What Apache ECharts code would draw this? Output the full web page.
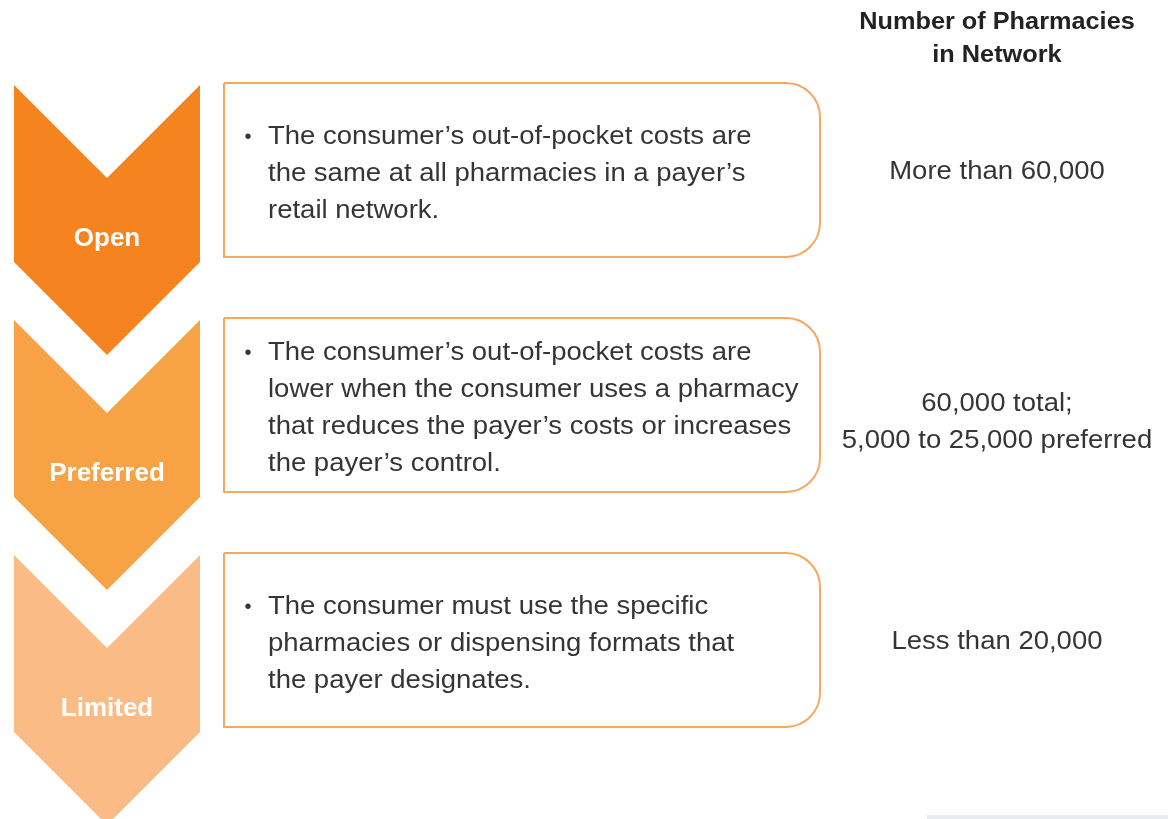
<!DOCTYPE html>
<html>
<head>
<meta charset="utf-8">
<script src="https://cdn.jsdelivr.net/npm/echarts@6/dist/echarts.min.js"></script>
<style>
  html, body { margin: 0; padding: 0; background: #fff; }
  #main { width: 1168px; height: 819px; }
</style>
</head>
<body>
<div id="main"></div>
<script>
// network levels, top to bottom
const levels = ['Open', 'Preferred', 'Limited'];
// bullet text in each box (one entry per printed line)
const descriptions = [
    ["The consumer\u2019s out-of-pocket costs are",
     "the same at all pharmacies in a payer\u2019s",
     "retail network."],
    ["The consumer\u2019s out-of-pocket costs are",
     "lower when the consumer uses a pharmacy",
     "that reduces the payer\u2019s costs or increases",
     "the payer\u2019s control."],
    ["The consumer must use the specific",
     "pharmacies or dispensing formats that",
     "the payer designates."]
];
// right column: number of pharmacies
const pharmacyCounts = [
    ['More than 60,000'],
    ['60,000 total;', '5,000 to 25,000 preferred'],
    ['Less than 20,000']
];
const headerLines = ['Number of Pharmacies', 'in Network'];

const chevronColors = ['#F5831F', '#F7A345', '#FABB84'];
const FONT = '"Liberation Sans", Arial, sans-serif';

let myChart = echarts.init(document.getElementById('main'));

function textEl(x, y, str, opt) {
    return {
        type: 'text',
        x: x,
        y: y,
        scaleX: opt.scaleX || 1,
        style: {
            text: str,
            fill: opt.fill || '#353535',
            fontSize: opt.fontSize,
            fontWeight: opt.fontWeight || 'normal',
            fontFamily: FONT,
            textAlign: opt.align || 'left',
            textVerticalAlign: 'middle',
            align: opt.align || 'left',
            verticalAlign: 'middle'
        }
    };
}

function renderLevel(params, api) {
    const i = params.dataIndex;
    const band = api.size([0, 1])[1];
    const top = api.coord([0, i])[1] - band / 2;
    const px = function (v) { return api.coord([v, i])[0]; };

    // chevron
    const l = px(14), r = px(200), mid = px(107);
    const half = (r - l) / 2;
    const children = [{
        type: 'polygon',
        shape: {
            points: [[l, top], [mid, top + half], [r, top], [r, top + 177],
                     [mid, top + 177 + half], [l, top + 177]]
        },
        style: { fill: chevronColors[i] }
    }];
    children.push(textEl(mid, top + 154, levels[i],
        { fontSize: 26, fontWeight: 'bold', fill: '#fff', align: 'center' }));

    // rounded box
    const boxTop = top - 2, boxH = 174;
    children.push({
        type: 'rect',
        shape: { x: px(224), y: boxTop, width: px(820) - px(224), height: boxH, r: [0, 34, 34, 0] },
        style: { fill: '#fff', stroke: '#F6A860', lineWidth: 2 }
    });
    const lines = descriptions[i];
    const lh = 37;
    const cy = boxTop + boxH / 2 + 4;
    lines.forEach(function (s, k) {
        const y = cy + (k - (lines.length - 1) / 2) * lh;
        if (k === 0) {
            children.push(textEl(px(248), y, '\u2022', { fontSize: 20, align: 'center' }));
        }
        children.push(textEl(px(268), y, s, { fontSize: 25, scaleX: 1.1 }));
    });

    // pharmacy count column
    const counts = pharmacyCounts[i];
    const cyc = counts.length > 1 ? cy + 14 : cy - 2;
    counts.forEach(function (s, k) {
        const y = cyc + (k - (counts.length - 1) / 2) * 37;
        children.push(textEl(px(997), y, s, { fontSize: 25, scaleX: 1.1, align: 'center' }));
    });

    return { type: 'group', children: children };
}

myChart.setOption({
    animation: false,
    grid: { left: 0, right: 0, top: 85, height: 705 },
    xAxis: { type: 'value', min: 0, max: 1168, show: false },
    yAxis: { type: 'category', data: levels, inverse: true, show: false },
    graphic: headerLines.map(function (s, k) {
        return {
            type: 'text',
            x: 997,
            y: 23 + k * 33,
            scaleX: 1.1,
            style: {
                text: s, fill: '#222', fontSize: 23, fontWeight: 'bold', fontFamily: FONT,
                textAlign: 'center', textVerticalAlign: 'middle', align: 'center', verticalAlign: 'middle'
            }
        };
    }).concat([{
        // faint strip in the lower right corner of the source image
        type: 'rect',
        shape: { x: 927, y: 815, width: 241, height: 4 },
        style: { fill: '#E8EBF1' }
    }]),
    series: [{
        type: 'custom',
        renderItem: renderLevel,
        clip: false,
        encode: { y: 0 },
        data: levels.map(function (name, i) { return [i]; })
    }]
});
</script>
</body>
</html>
